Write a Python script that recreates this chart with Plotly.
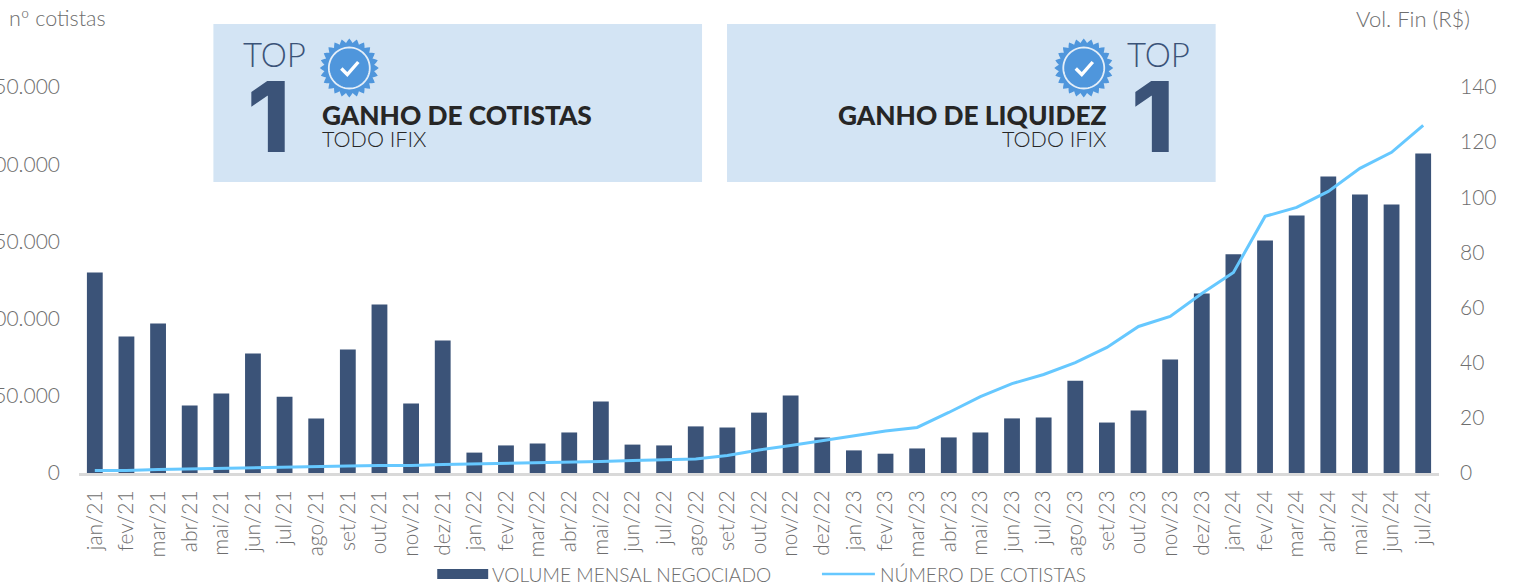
import math
import plotly.graph_objects as go

months = ["jan/21","fev/21","mar/21","abr/21","mai/21","jun/21","jul/21","ago/21","set/21","out/21","nov/21","dez/21",
          "jan/22","fev/22","mar/22","abr/22","mai/22","jun/22","jul/22","ago/22","set/22","out/22","nov/22","dez/22",
          "jan/23","fev/23","mar/23","abr/23","mai/23","jun/23","jul/23","ago/23","set/23","out/23","nov/23","dez/23",
          "jan/24","fev/24","mar/24","abr/24","mai/24","jun/24","jul/24"]
volume = [72.7,49.5,54.2,24.5,28.8,43.3,27.7,19.8,44.8,61.1,25.2,48.1,
          7.4,10.0,10.7,14.7,25.9,10.3,10.0,16.9,16.5,21.9,28.1,12.9,
          8.2,7.0,8.9,12.9,14.7,19.8,20.1,33.5,18.3,22.7,41.2,65.1,
          79.3,84.3,93.4,107.5,101.0,97.4,115.9]
cotistas = [1600,1600,2300,2600,2900,3200,3900,4200,4500,4900,4900,5500,
            5800,6200,6500,7100,7400,8100,8400,9100,11300,14900,17800,21000,
            24300,27200,29500,39200,49500,57900,63800,71500,81300,94900,101400,116300,
            129900,166200,172000,182400,197300,207700,225200]
left_ticks = [0,50000,100000,150000,200000,250000]
left_labels = ["0","50.000","100.000","150.000","200.000","250.000"]
right_ticks = [0,20,40,60,80,100,120,140]
bar_name = "VOLUME MENSAL NEGOCIADO"
line_name = "NÚMERO DE COTISTAS"

W, H = 1515, 582
L, R, T, B = 78.5, 1439.5, 87, 473
FONT = "Lato"
GREY = "#6E6E6E"
NAVY = "#3B5378"
PANEL = "#D3E4F4"
SEAL = "#4F96DC"
INK = "#262626"

def X(p): return (p - L) / (R - L)
def Y(p): return (B - p) / (B - T)

def rect(x0, y0, x1, y1, color):
    return dict(type="rect", xref="paper", yref="paper", x0=X(x0), x1=X(x1), y0=Y(y0), y1=Y(y1),
                fillcolor=color, line_width=0, layer="below")

def poly(points, **kw):
    path = "M" + "L".join(f"{X(a):.5f},{Y(b):.5f}" for a, b in points)
    return dict(type="path", xref="paper", yref="paper", path=path + kw.pop("close", "Z"), **kw)

def seal_shapes(cx, cy):
    outer = []
    for i in range(96):
        t = 2 * math.pi * i / 96
        r = 27.3 + 2.2 * math.cos(24 * t)
        outer.append((cx + r * math.cos(t), cy + r * math.sin(t)))
    ring = [(cx + 20.5 * math.cos(2*math.pi*i/60), cy + 20.5 * math.sin(2*math.pi*i/60)) for i in range(60)]
    check = [(cx - 8, cy + 0.5), (cx - 2, cy + 6.5), (cx + 9, cy - 6)]
    return [
        poly(outer, fillcolor=SEAL, line_width=0),
        poly(ring, fillcolor=SEAL, line=dict(color="#E4EEF8", width=1.8)),
        poly(check, close="", line=dict(color="#FFFFFF", width=3.4), fillcolor="rgba(0,0,0,0)"),
    ]

def label(text, x, y, size, color, anchor="left", weight=300, family=FONT):
    return dict(text=text, xref="paper", yref="paper", x=X(x), y=Y(y), xanchor=anchor, yanchor="middle",
                showarrow=False, borderpad=0, borderwidth=0,
                font=dict(family=family, size=size, color=color, weight=weight))

fig = go.Figure()
fig.add_bar(x=months, y=volume, name=bar_name, yaxis="y2", marker=dict(color=NAVY, line_width=0), showlegend=False)
fig.add_scatter(x=months, y=cotistas, name=line_name, yaxis="y", mode="lines",
                line=dict(color="#66C8FF", width=3), showlegend=False)

shapes = [rect(213, 24, 702, 182, PANEL), rect(727, 24, 1216, 182, PANEL)]
shapes += seal_shapes(349, 68) + seal_shapes(1084, 68)
shapes += [
    rect(437, 569, 488, 579, NAVY),
    dict(type="line", xref="paper", yref="paper", x0=X(822), x1=X(875), y0=Y(574), y1=Y(574),
         line=dict(color="#66C8FF", width=2.5)),
]

annotations = [
    label("nº cotistas", 8, 18, 21.5, GREY),
    label("Vol. Fin (R$)", 1471, 18, 22, GREY, anchor="right"),
    label("TOP", 243, 54, 33, NAVY),
    label("1", 268, 116, 98, NAVY, anchor="center", weight=800, family="Inter"),
    label("GANHO DE COTISTAS", 322, 115, 26.3, INK, weight=900),
    label("TODO IFIX", 322, 139, 21.5, INK),
    label("TOP", 1190, 54, 33, NAVY, anchor="right"),
    label("1", 1153, 116, 98, NAVY, anchor="center", weight=800, family="Inter"),
    label("GANHO DE LIQUIDEZ", 1107, 115, 26.3, INK, anchor="right", weight=900),
    label("TODO IFIX", 1107, 139, 21.5, INK, anchor="right"),
    label(bar_name, 492, 574, 19.2, GREY),
    label(line_name, 880, 574, 19.2, GREY),
]

tick = dict(family=FONT, size=21, color=GREY, weight=300)
fig.update_layout(
    width=W, height=H, paper_bgcolor="white", plot_bgcolor="white",
    margin=dict(l=L, r=W-R, t=T, b=H-B, pad=0, autoexpand=False),
    bargap=0.5, showlegend=False, shapes=shapes, annotations=annotations,
    font=dict(family=FONT, color=GREY),
    xaxis=dict(type="category", tickangle=-90, tickfont=tick,
               showgrid=False, showline=True, linecolor="#D9D9D9", linewidth=3, ticks="",
               ticklabelstandoff=6, automargin=False),
    yaxis=dict(side="left", overlaying="y2", range=[0, 250000], tickvals=left_ticks, ticktext=left_labels,
               tickfont=tick, showgrid=False, zeroline=False, showline=False, ticks="",
               ticklabelstandoff=18, automargin=False),
    yaxis2=dict(side="right", range=[0, 140], tickvals=right_ticks, tickfont=tick, showgrid=False,
                zeroline=False, showline=False, ticks="", ticklabelstandoff=20, automargin=False),
)

fig.write_html("out.html", config=dict(displayModeBar=False),
               post_script="document.body.style.margin='0';document.body.style.overflow='hidden';")
